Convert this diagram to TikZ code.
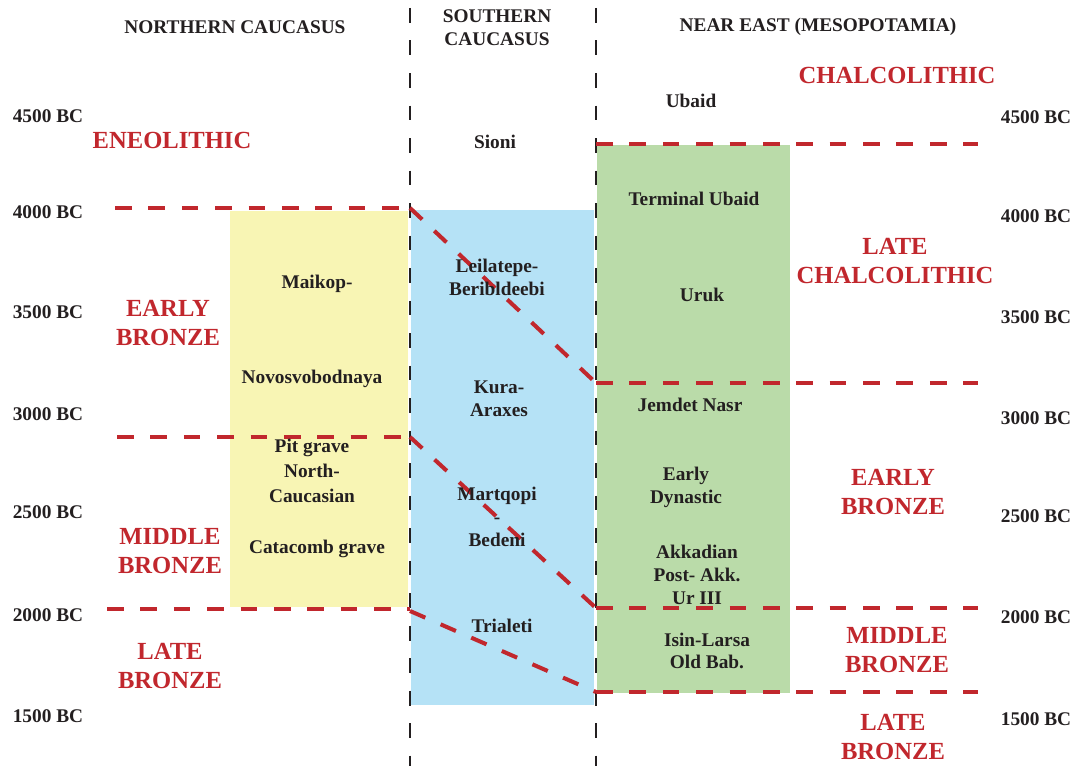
\documentclass[tikz,border=0pt]{standalone}
\usepackage{fontspec}
\setmainfont{Liberation Serif}
\definecolor{eracol}{HTML}{C1272D}
\definecolor{txtcol}{HTML}{231F20}
\definecolor{ncfill}{HTML}{F8F5B4}
\definecolor{scfill}{HTML}{B5E2F6}
\definecolor{nefill}{HTML}{BADBA9}
\begin{document}
\begin{tikzpicture}[x=0.02cm,y=-0.02cm,
        era/.style={text=eracol,font=\fontsize{14}{17}\selectfont\bfseries,align=center},
        lbl/.style={text=txtcol,font=\fontsize{11}{13}\selectfont\bfseries,align=center},
        bound/.style={eracol,line width=2.3pt,dash pattern=on 9.5pt off 9.5pt},
        colsep/.style={txtcol,line width=1.5pt,dash pattern=on 8.5pt off 10pt}]
        \useasboundingbox (0,0) rectangle (1084,766);
        %% culture blocks
        \fill[ncfill] (230,211) rectangle (408,607);
        \fill[scfill] (411,210) rectangle (594,705);
        \fill[nefill] (597,145) rectangle (790,693);
        %% column borders
        \draw[colsep] (410,8) -- (410,766);
        \draw[colsep] (596,8) -- (596,766);
        %% period borders
        \coordinate (nc4000) at (115,208);
        \coordinate (sc4000) at (410,208);
        \coordinate (ne3200) at (596,383);
        \coordinate (nc2900) at (117,437);
        \coordinate (sc2900) at (410,437);
        \coordinate (ne2000) at (596,608);
        \coordinate (nc2000) at (107,609);
        \coordinate (sc2000) at (410,611);
        \coordinate (ne1600) at (596,692);
        \draw[bound] (nc4000) -- (sc4000);
        \draw[bound] (sc4000) -- (ne3200);
        \draw[bound] (ne3200) -- (978,383);
        \draw[bound] (nc2900) -- (sc2900);
        \draw[bound] (sc2900) -- (ne2000);
        \draw[bound] (ne2000) -- (978,608);
        \draw[bound] (nc2000) -- (410,609);
        \draw[bound] (sc2000) -- (ne1600);
        \draw[bound] (ne1600) -- (978,692);
        \draw[bound] (596,144) -- (978,144);
        %% headings
        \node[lbl] (nchead) at (235,27) {NORTHERN CAUCASUS};
        \node[lbl] (schead) at (497,28) {SOUTHERN\\CAUCASUS};
        \node[lbl] (nehead) at (818,27) {NEAR EAST (MESOPOTAMIA)};
        %% years
        \foreach \yr/\yl/\yrr [count=\i] in {4500/116/117,4000/212/216,3500/312/317,3000/414/418,2500/512/516,2000/615/617,1500/716/719} {
            \node[lbl] (yl\i) at (48,\yl) {\yr\ BC};
            \node[lbl] (yr\i) at (1036,\yrr) {\yr\ BC};
        }
        %% periods
        \node[era] (eneo) at (172,140) {ENEOLITHIC};
        \node[era] (ebnc) at (168,323) {EARLY\\BRONZE};
        \node[era] (mbnc) at (170,551) {MIDDLE\\BRONZE};
        \node[era] (lbnc) at (170,666) {LATE\\BRONZE};
        \node[era] (chal) at (897,75) {CHALCOLITHIC};
        \node[era] (lchal) at (895,261) {LATE\\CHALCOLITHIC};
        \node[era] (ebne) at (893,492) {EARLY\\BRONZE};
        \node[era] (mbne) at (897,650) {MIDDLE\\BRONZE};
        \node[era] (lbne) at (893,737) {LATE\\BRONZE};
        %% cultures
        \node[lbl] (maikop) at (317,284) {Maikop-};
        \node[lbl] (novo) at (312,379) {Novosvobodnaya};
        \node[lbl] (pitgr) at (312,471) {Pit grave\\[1pt]North-\\[1pt]Caucasian};
        \node[lbl] (catac) at (317,549) {Catacomb grave};
        \node[lbl] (sioni) at (495,142) {Sioni};
        \node[lbl] (leila) at (497,277) {Leilatepe-\\Beribldeebi};
        \node[lbl] (kura) at (499,399) {Kura-\\Araxes};
        \node[lbl] (martq) at (497,517) {Martqopi\\-\\Bedeni};
        \node[lbl] (trial) at (502,626) {Trialeti};
        \node[lbl] (ubaid) at (691,101) {Ubaid};
        \node[lbl] (tubaid) at (694,199) {Terminal Ubaid};
        \node[lbl] (uruk) at (702,295) {Uruk};
        \node[lbl] (jemdet) at (690,405) {Jemdet Nasr};
        \node[lbl] (edyn) at (686,487) {Early\\Dynastic};
        \node[lbl] (akkad) at (697,575) {Akkadian\\Post- Akk.\\Ur III};
        \node[lbl] (isin) at (707,651) {Isin-Larsa\\Old Bab.};
\end{tikzpicture}
\end{document}
